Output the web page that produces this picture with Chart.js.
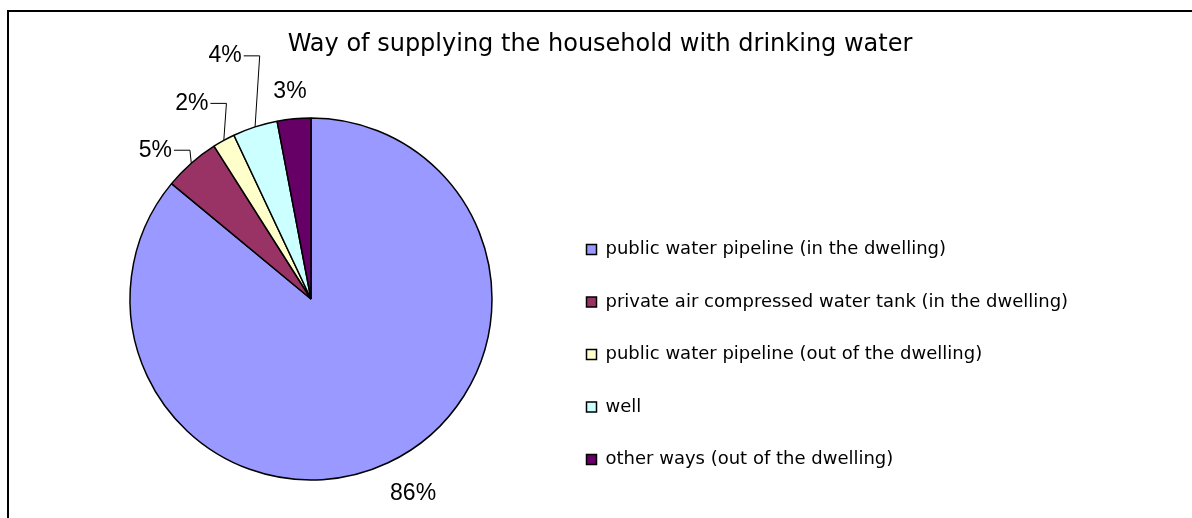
<!DOCTYPE html>
<html>
<head>
<meta charset="utf-8">
<script src="https://cdn.jsdelivr.net/npm/chart.js@4"></script>
<style>
  body { margin: 0; background: #fff; overflow: hidden; }
  #frame {
    position: absolute; left: 7px; top: 10px; width: 1400px; height: 700px;
    border-left: 2px solid #000; border-top: 2px solid #000;
  }
  #pieChart { position: absolute; left: 0; top: 0; }
</style>
</head>
<body>
<div id="frame"></div>
<canvas id="pieChart" width="1192" height="518"></canvas>
<script>
const categories = [
  'public water pipeline (in the dwelling)',
  'private air compressed water tank (in the dwelling)',
  'public water pipeline (out of the dwelling)',
  'well',
  'other ways (out of the dwelling)'
];
const shares = [86, 5, 2, 4, 3];
const sliceColors = ['#9999FF', '#993366', '#FFFFCC', '#CCFFFF', '#660066'];

// where each % label sits relative to the slice's outer mid point, and whether it gets a leader
const labelOffsets = [[25, 31], [-36, -13], [-32, -37], [-30, -71], [-4, -27]];
const hasLeader = [false, true, true, true, false];

const legendMinWidth = 578;

// keep the legend wide enough so the title stays centred over the whole frame
const legendWidth = {
  id: 'legendWidth',
  beforeLayout(chart) {
    const lg = chart.legend;
    if (!lg || lg._patched) return;
    const fit = lg.fit;
    lg.fit = function () {
      fit.call(this);
      this.width = Math.max(this.width, legendMinWidth);
    };
    lg._patched = true;
  }
};

const pctLabels = {
  id: 'pctLabels',
  afterDatasetsDraw(chart) {
    const ctx = chart.ctx;
    const arcs = chart.getDatasetMeta(0).data;
    ctx.save();
    ctx.font = '23px "Liberation Sans", Arial, sans-serif';
    ctx.fillStyle = '#000';
    ctx.strokeStyle = '#000';
    ctx.lineWidth = 1;
    ctx.textAlign = 'center';
    ctx.textBaseline = 'middle';
    arcs.forEach((arc, i) => {
      const p = arc.getProps(['x', 'y', 'startAngle', 'endAngle', 'outerRadius'], true);
      const mid = (p.startAngle + p.endAngle) / 2;
      const ax = p.x + Math.cos(mid) * p.outerRadius;
      const ay = p.y + Math.sin(mid) * p.outerRadius;
      const lx = ax + labelOffsets[i][0];
      const ly = ay + labelOffsets[i][1];
      const text = shares[i] + '%';
      ctx.fillText(text, lx, ly);
      if (hasLeader[i]) {
        const w = ctx.measureText(text).width;
        const sx = lx + w / 2 + 2;
        ctx.beginPath();
        ctx.moveTo(sx, ly);
        ctx.lineTo(sx + 16, ly);
        ctx.lineTo(ax, ay);
        ctx.stroke();
      }
    });
    ctx.restore();
  }
};

Chart.defaults.color = '#000';

new Chart(document.getElementById('pieChart').getContext('2d'), {
  type: 'pie',
  data: {
    labels: categories,
    datasets: [{
      data: shares,
      backgroundColor: sliceColors,
      borderColor: '#000',
      borderWidth: 1.5
    }]
  },
  options: {
    responsive: false,
    animation: false,
    devicePixelRatio: 1,
    radius: 181,
    layout: { padding: { left: 70, right: 62, top: 0, bottom: 15 } },
    plugins: {
      title: {
        display: true,
        text: 'Way of supplying the household with drinking water',
        font: { family: '"DejaVu Sans", Verdana, sans-serif', size: 24, weight: 'normal' },
        padding: { top: 30, bottom: 36.2 }
      },
      legend: {
        position: 'right',
        align: 'end',
        labels: {
          boxWidth: 10,
          boxHeight: 10,
          padding: 34.5,
          font: { family: '"DejaVu Sans", Verdana, sans-serif', size: 18 }
        }
      },
      tooltip: { enabled: false }
    }
  },
  plugins: [legendWidth, pctLabels]
});
</script>
</body>
</html>
